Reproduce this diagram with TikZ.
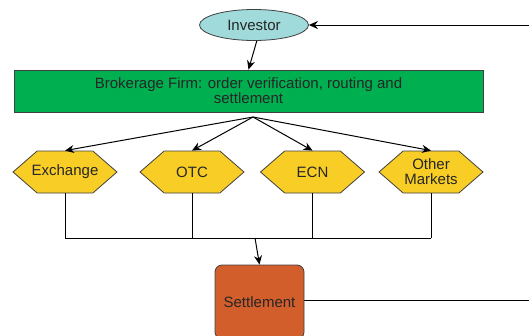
\documentclass[tikz,border=0pt]{standalone}
\usepackage{fontspec}
\setmainfont{Liberation Sans}
\usetikzlibrary{arrows.meta,shapes.geometric,shapes.symbols}
\definecolor{investorfill}{RGB}{160,218,218}
\definecolor{firmfill}{RGB}{0,176,80}
\definecolor{marketfill}{RGB}{248,206,38}
\definecolor{settlefill}{RGB}{210,94,44}
\begin{document}
\begin{tikzpicture}[x=1pt,y=-1pt,>={Stealth[length=9pt,width=8pt]},line width=1pt,
    every node/.style={font=\fontsize{15}{15}\selectfont,text=black!85,draw=black!75,line width=0.8pt},
    market/.style={signal,signal to=west and east,signal pointer angle=82,fill=marketfill,
        minimum width=104pt,minimum height=42pt,inner sep=0pt},
    marketlabel/.style={draw=none,align=center,inner sep=0pt}]
    \useasboundingbox (0,0) rectangle (529,335);
    \node[ellipse,fill=investorfill,minimum width=109pt,minimum height=31pt,inner sep=1pt] (investor) at (254,25) {Investor};
    \node[fill=firmfill,minimum width=469pt,minimum height=42pt,align=center] (firm) at (248.5,91)
        {Brokerage Firm: order verification, routing and\\settlement};
    \node[fill=settlefill,rounded corners=7pt,minimum width=89pt,minimum height=74pt] (settle) at (259.5,302) {Settlement};
    \coordinate (inR) at (529,25);
    \coordinate (outR) at (529,300);
    \coordinate (fan) at (253,117);
    \coordinate (bus) at (255,238);
    \foreach \name/\x/\txt in {exch/65/Exchange, otc/192/OTC, ecn/312.5/ECN, other/431/{Other\\Markets}}
    {
        \node[market] (\name) at (\x,172) {};
        \node[marketlabel] (\name-text) at (\name.center) {\txt};
        \draw[->] (fan)--(\name.north);
        \draw (\name.south)--(\name.south |- bus);
    }
    \draw[->] (inR)--(investor.east);
    \draw[->] (investor.-80)--(firm.north);
    \draw (exch.south |- bus)--(other.south |- bus);
    \draw[->] (bus)--(settle.north);
    \draw (settle.east |- outR)--(outR);
\end{tikzpicture}
\end{document}
